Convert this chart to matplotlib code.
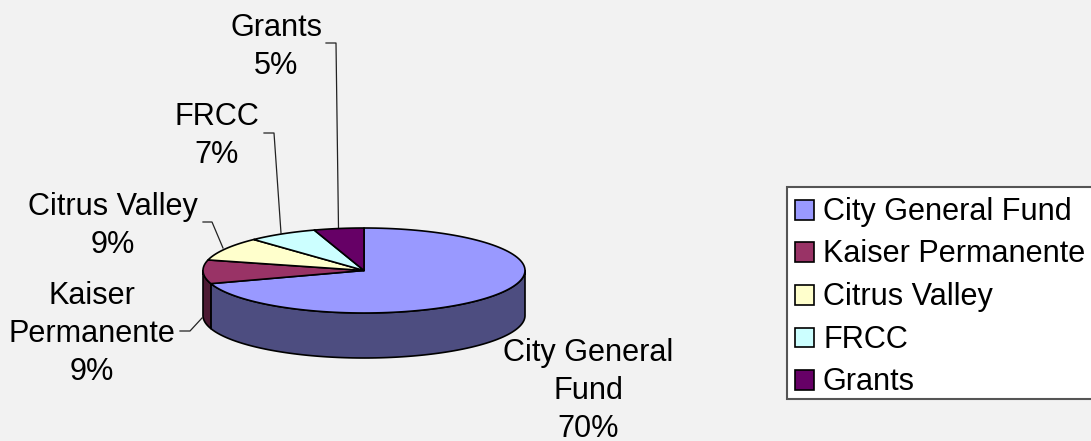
import numpy as np
import matplotlib
matplotlib.use("Agg")
import matplotlib.pyplot as plt
from matplotlib.patches import Rectangle

categories = ["City General Fund", "Kaiser Permanente", "Citrus Valley", "FRCC", "Grants"]
values = [70, 9, 9, 7, 5]
colors = ["#9999FF", "#993366", "#FFFFCC", "#CCFFFF", "#660066"]
side_colors = ["#4D4D80", "#4D1A33", "#808066", "#668080", "#330033"]

W, H = 1091, 441
CX, CY, RX, RY, DEPTH = 364, 270.5, 161, 42.5, 45

plt.rcParams["font.family"] = ["Liberation Sans", "DejaVu Sans"]

fig = plt.figure(figsize=(W / 100, H / 100), dpi=100, facecolor="#F2F2F2")
ax = fig.add_axes([0, 0, 1, 1])
ax.set_xlim(0, W)
ax.set_ylim(H, 0)
ax.axis("off")


def rim(a0, a1, n=120):
    # angles are clockwise from 12 o'clock, in degrees
    t = np.radians(np.linspace(a0, a1, n))
    return CX + RX * np.sin(t), CY - RY * np.cos(t)


edges = np.concatenate([[0], np.cumsum(values)]) * 3.6

# side wall: only the front half of the rim shows (90 to 270 degrees)
for i in range(len(values)):
    a0, a1 = max(edges[i], 90), min(edges[i + 1], 270)
    if a1 <= a0:
        continue
    x, y = rim(a0, a1)
    ax.fill(np.r_[x, x[::-1]], np.r_[y, y[::-1] + DEPTH], fc=side_colors[i], ec="black", lw=1.2, joinstyle="round", zorder=2)

# top slices
for i in range(len(values)):
    x, y = rim(edges[i], edges[i + 1])
    ax.fill(np.r_[CX, x], np.r_[CY, y], fc=colors[i], ec="black", lw=1.2, joinstyle="round", zorder=3)

# data labels, y is the baseline of the last line
FS = 22.1
labels = [
    ("City General\nFund\n70%", 588, 437),
    ("Kaiser\nPermanente\n9%", 92, 380),
    ("Citrus Valley\n9%", 113, 253),
    ("FRCC\n7%", 217, 163),
    ("Grants\n5%", 276.5, 74),
]
for text, x, y in labels:
    ax.text(x, y, text, ha="center", va="baseline", fontsize=FS, color="black", linespacing=1.34, zorder=5)

# leader lines
leaders = [
    ([180, 190, 202], [331, 331, 318]),
    ([203, 212, 223], [222, 222, 248]),
    ([264, 274, 281], [133, 133, 233]),
    ([326, 336, 338.5], [43, 43, 228]),
]
for x, y in leaders:
    ax.plot(x, y, color="#222222", lw=0.9, zorder=1)

# legend
ax.add_patch(Rectangle((787, 187), 310, 212, fc="white", ec="#555555", lw=1.5, zorder=4))
legend_y = [210, 252, 295, 337.5, 380]
for name, color, y in zip(categories, colors, legend_y):
    ax.add_patch(Rectangle((794.5, y - 10), 19.5, 19.5, fc=color, ec="black", lw=1.2, zorder=5))
    ax.text(823, y + 10, name, ha="left", va="baseline", fontsize=FS, color="black", zorder=5)

fig.savefig("out.png", dpi=100, facecolor=fig.get_facecolor())
